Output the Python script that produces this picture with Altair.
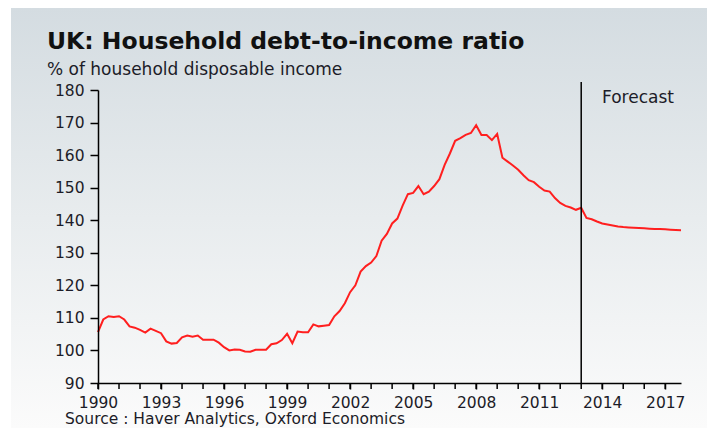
import altair as alt
import pandas as pd

START_YEAR = 1990
ratio = [
    105.6, 109.5, 110.5, 110.3,   # 1990
    110.5, 109.5, 107.4, 107.0,   # 1991
    106.3, 105.5, 106.7, 106.0,   # 1992
    105.3, 102.8, 102.1, 102.3,   # 1993
    104.0, 104.6, 104.2, 104.6,   # 1994
    103.3, 103.3, 103.3, 102.4,   # 1995
    101.0, 100.0, 100.3, 100.2,   # 1996
    99.7, 99.6, 100.2, 100.2,     # 1997
    100.2, 101.9, 102.2, 103.2,   # 1998
    105.1, 102.2, 105.8, 105.6,   # 1999
    105.6, 108.0, 107.4, 107.6,   # 2000
    107.8, 110.5, 112.1, 114.5,   # 2001
    117.9, 120.0, 124.2, 125.9,   # 2002
    127.0, 129.0, 133.7, 135.8,   # 2003
    139.0, 140.5, 144.5, 148.0,   # 2004
    148.4, 150.5, 148.0, 148.8,   # 2005
    150.5, 152.6, 157.0, 160.5,   # 2006
    164.4, 165.2, 166.2, 166.8,   # 2007
    169.2, 166.2, 166.2, 164.6,   # 2008
    166.5, 159.2, 158.0, 156.8,   # 2009
    155.5, 153.8, 152.3, 151.7,   # 2010
    150.3, 149.1, 148.8, 146.8,   # 2011
    145.3, 144.4, 143.9, 143.2,   # 2012
    143.8, 140.7, 140.3, 139.6,   # 2013
    139.0, 138.7, 138.4, 138.1,   # 2014
    137.9, 137.8, 137.7, 137.6,   # 2015
    137.5, 137.4, 137.3, 137.3,   # 2016
    137.2, 137.1, 137.0, 136.9,   # 2017
]
years = [START_YEAR + i * 0.25 for i in range(len(ratio))]
label_years = list(range(1990, 2018, 3))
tick_years = list(range(1990, 2018))
y_ticks = [90, 100, 110, 120, 130, 140, 150, 160, 170, 180]
forecast_start = [2013]

TITLE = "UK: Household debt-to-income ratio"
SUBTITLE = "% of household disposable income"
SOURCE = "Source : Haver Analytics, Oxford Economics"
FORECAST = "Forecast"

W, H = 583, 293
FONT = "DejaVu Sans"

df = pd.DataFrame({"year": years, "ratio": ratio})

grad = alt.Gradient(
    gradient="linear",
    stops=[
        alt.GradientStop(color="#d4dce1", offset=0),
        alt.GradientStop(color="#e8ecee", offset=0.5),
        alt.GradientStop(color="#fbfbfb", offset=1),
    ],
    x1=0, x2=0, y1=0, y2=1,
)

one = pd.DataFrame({"k": [0]})
bg = alt.Chart(one).mark_rect(fill=grad).encode(
    x=alt.value(-87), x2=alt.value(W + 30), y=alt.value(-82), y2=alt.value(H + 45)
)

xscale = alt.Scale(domain=[1990, 2017.75], nice=False, zero=False)
yscale = alt.Scale(domain=[90, 180], nice=False, zero=False)

line = alt.Chart(df).mark_line(color="#ff1f1f", strokeWidth=2).encode(
    x=alt.X(
        "year:Q",
        scale=xscale,
        axis=alt.Axis(
            title=None,
            values=label_years,
            format="d",
            labelOverlap=False,
            labelFlush=False,
            tickSize=6,
            labelPadding=6,
            grid=False,
            zindex=1,
        ),
    ),
    y=alt.Y(
        "ratio:Q",
        scale=yscale,
        axis=alt.Axis(
            title=None,
            values=y_ticks,
            tickSize=8,
            labelPadding=6,
            grid=False,
            zindex=1,
        ),
    ),
)

# yearly minor ticks on the x axis
minor = alt.Chart(pd.DataFrame({"yr": tick_years})).mark_rule(
    color="black", strokeWidth=1.5
).encode(x=alt.X("yr:Q", scale=xscale), y=alt.value(H), y2=alt.value(H + 6))

rule = alt.Chart(pd.DataFrame({"x": forecast_start})).mark_rule(
    color="black", strokeWidth=1.5
).encode(x=alt.X("x:Q", scale=xscale), y=alt.value(-8), y2=alt.value(H))

def label(txt, x, y, size, weight="normal", color="#1c1c28"):
    return alt.Chart(pd.DataFrame({"t": [txt]})).mark_text(
        align="left", baseline="alphabetic", font=FONT, fontSize=size,
        fontWeight=weight, color=color
    ).encode(text="t:N", x=alt.value(x), y=alt.value(y))

title = label(TITLE, -51, -41, 23.5, "bold", "#111111")
subtitle = label(SUBTITLE, -51, -15, 17)
source = label(SOURCE, -33, 334, 15.5)
fc = label(FORECAST, 504, 13, 17)

chart = alt.layer(bg, line, minor, rule, title, subtitle, source, fc).properties(
    width=W,
    height=H,
    padding={"left": 90, "top": 82, "right": 26, "bottom": 45},
    autosize=alt.AutoSizeParams(type="none"),
).configure_view(stroke=None).configure_axis(
    domainColor="black",
    domainWidth=1.5,
    tickColor="black",
    tickWidth=1.5,
    labelFont=FONT,
    labelFontSize=15.5,
    labelColor="#1c1c28",
)

chart.save("out.html", embed_options={"renderer": "svg", "actions": False})
